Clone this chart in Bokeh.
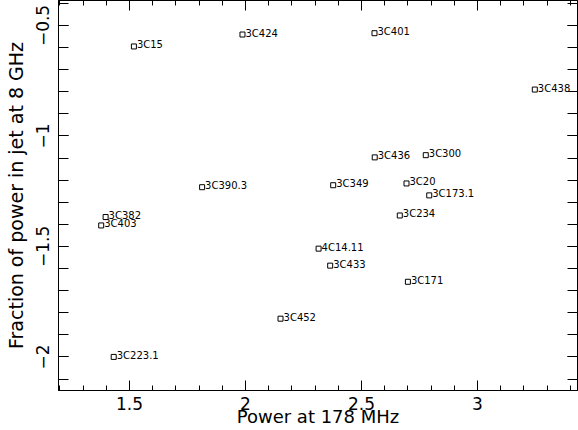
import numpy as np
from bokeh.plotting import figure
from bokeh.models import LinearAxis, FixedTicker, ColumnDataSource, Range1d
from bokeh.embed import file_html
from bokeh.resources import INLINE
from bokeh.core.properties import value

# ---- data ----
names = ["3C15", "3C424", "3C401", "3C438", "3C436", "3C300", "3C349", "3C20",
         "3C173.1", "3C234", "3C390.3", "3C382", "3C403", "3C223.1", "3C452",
         "4C14.11", "3C433", "3C171"]
power_178 = [1.519, 1.987, 2.556, 3.247, 2.557, 2.777, 2.378, 2.694,
             2.792, 2.665, 1.813, 1.397, 1.378, 1.432, 2.151,
             2.315, 2.365, 2.700]
jet_frac = [-0.595, -0.541, -0.535, -0.790, -1.097, -1.087, -1.223, -1.215,
            -1.269, -1.360, -1.232, -1.367, -1.405, -2.000, -1.827,
            -1.510, -1.587, -1.660]

x_ticks = [1.5, 2.0, 2.5, 3.0]
x_tick_labels = ["1.5", "2", "2.5", "3"]
y_ticks = [-2.0, -1.5, -1.0, -0.5]
y_tick_labels = ["\u22122", "\u22121.5", "\u22121", "\u22120.5"]

x_title = "Power at 178 MHz"
y_title = "Fraction of power in jet at 8 GHz"

x_lim = (1.194, 3.431)
y_lim = (-2.152, -0.387)

FONT = "DejaVu Sans"

p = figure(width=578, height=430, output_backend="svg", toolbar_location=None,
           x_range=Range1d(*x_lim), y_range=Range1d(*y_lim),
           min_border_left=58, min_border_right=1, min_border_top=0,
           min_border_bottom=40, x_axis_location=None, y_axis_location=None)
p.grid.visible = False
p.outline_line_color = "black"
p.outline_line_width = 1
p.background_fill_color = "white"
p.border_fill_color = "white"

x_minor = [round(v, 2) for v in np.arange(1.2, 3.45, 0.1)]
y_minor = [round(v, 2) for v in np.arange(-2.1, -0.35, 0.1)]


def make_axis(ticks, labels, minor, show, minor_len):
    ax = LinearAxis(ticker=FixedTicker(ticks=ticks, minor_ticks=minor))
    ax.major_tick_in = 10
    ax.major_tick_out = 0
    ax.minor_tick_in = minor_len
    ax.minor_tick_out = 0
    ax.axis_line_color = "black"
    ax.major_tick_line_color = "black"
    ax.minor_tick_line_color = "black"
    if show:
        ax.major_label_overrides = dict(zip(ticks, labels))
        ax.major_label_text_font = FONT
        ax.major_label_text_font_size = "17px"
        ax.major_label_text_color = "black"
        ax.axis_label_text_font = FONT
        ax.axis_label_text_font_size = "18px"
        ax.axis_label_text_font_style = "normal"
        ax.axis_label_text_color = "black"
    else:
        ax.major_label_text_font_size = "0px"
        ax.major_label_text_color = None
        ax.major_label_standoff = 0
    return ax


xb = make_axis(x_ticks, x_tick_labels, x_minor, True, 5)
xb.major_label_standoff = 6
xb.axis_label = x_title
xb.axis_label_standoff = -7
p.add_layout(xb, "below")
xt = make_axis(x_ticks, x_tick_labels, x_minor, False, 5)
p.add_layout(xt, "above")
yl = make_axis(y_ticks, y_tick_labels, y_minor, True, 10)
yl.major_label_orientation = "vertical"
yl.major_label_standoff = 9
yl.axis_label = y_title
yl.axis_label_standoff = 7
yl.axis_label_text_font_size = "19px"
p.add_layout(yl, "left")
yr = make_axis(y_ticks, y_tick_labels, y_minor, False, 10)
p.add_layout(yr, "right")

src = ColumnDataSource(dict(x=power_178, y=jet_frac, name=names))
p.scatter("x", "y", source=src, marker="square", size=5, fill_color=None,
          line_color="black", line_width=1)
p.text("x", "y", text="name", source=src, x_offset=3, y_offset=-1.5,
       text_font=value(FONT), text_font_size="10px", text_color="black",
       text_baseline="alphabetic", text_align="left")

open("out.html", "w").write(file_html(p, INLINE))
